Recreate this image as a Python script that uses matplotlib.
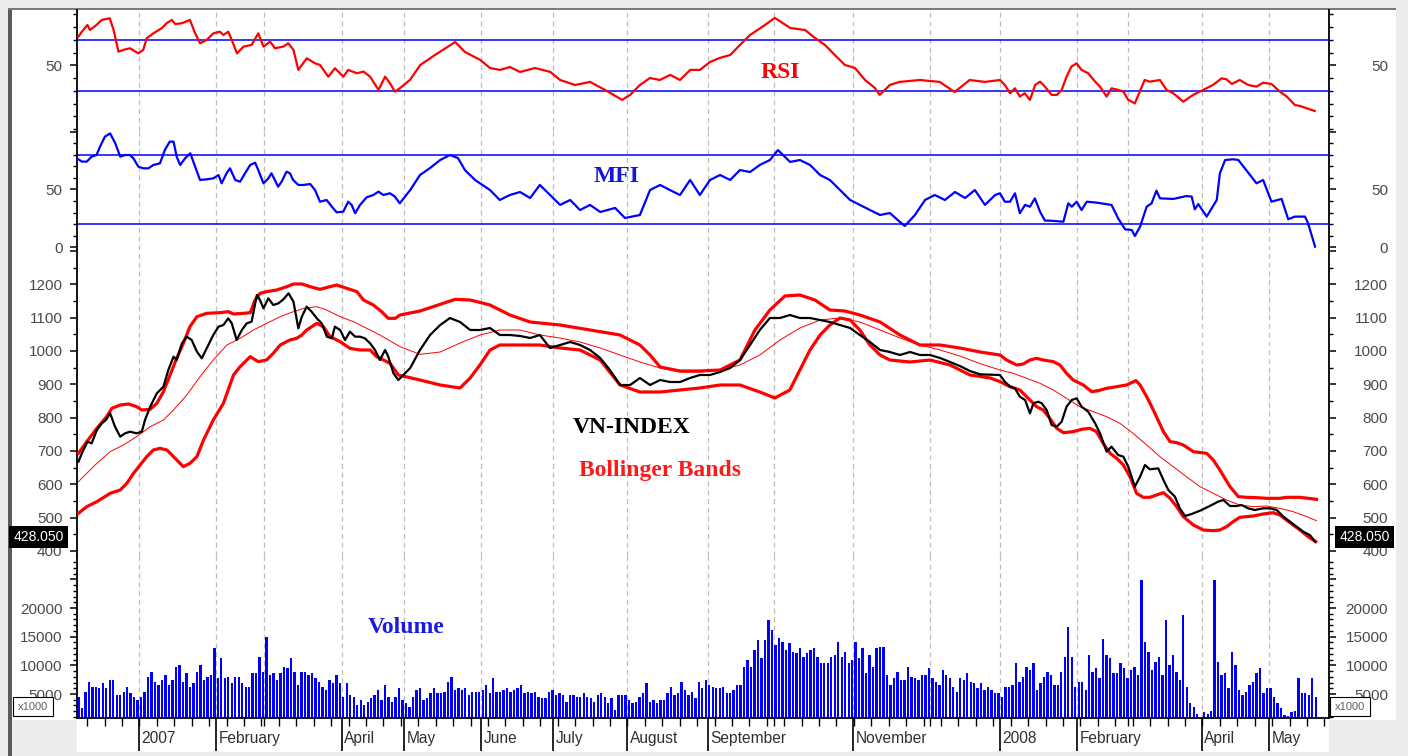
#!/usr/bin/env python3
"""
VN-INDEX with Bollinger Bands, RSI, MFI and volume (Dec 2006 - May 2008).
x axis is the trading-day index.
"""

import numpy as np
import matplotlib

matplotlib.use("Agg")

import matplotlib.pyplot as plt
from matplotlib.patches import Rectangle

plt.rcParams["font.family"] = ["Liberation Sans", "DejaVu Sans"]

# ---------------------------------------------------------------- data
month_days = [17.4, 39.5, 53.3, 75.6, 93.4, 115.5, 136.2, 157.4, 180.6,
              199.6, 222.2, 244.3, 264.4, 286.5, 301.1, 322.3, 341.6]
month_labels = ["2007", "February", "", "April", "May", "June", "July",
                "August", "September", "", "November", "", "2008",
                "February", "", "April", "May"]

rsi_levels = [70, 30]
mfi_levels = [80, 20]
last_close = 428.050

rsi = [(0.0, 72.6), (1.0, 76.5), (2.6, 81.8), (3.3, 77.8), (5.2, 81.8), (6.7, 85.7),
       (9.0, 87.0), (10.1, 77.8), (11.5, 60.8), (12.9, 62.2), (14.8, 63.5), (17.2, 59.5),
       (18.6, 62.2), (19.6, 71.3), (21.5, 75.2), (23.9, 79.2), (25.3, 83.1), (26.8, 85.7),
       (27.8, 82.5), (29.7, 83.1), (32.0, 85.7), (33.5, 75.2), (34.9, 67.4), (36.8, 70.0),
       (38.7, 75.2), (40.6, 76.5), (41.6, 73.9), (43.0, 76.5), (44.0, 70.0), (45.5, 59.5),
       (47.4, 64.8), (49.7, 66.1), (51.6, 75.2), (53.1, 64.8), (55.0, 68.7), (56.4, 63.5),
       (58.8, 64.8), (60.2, 67.4), (61.7, 62.2), (63.1, 46.5), (65.5, 55.6), (67.9, 51.7),
       (69.3, 50.4), (71.7, 41.2), (73.6, 47.8), (76.0, 41.2), (77.4, 46.5), (79.9, 43.9),
       (81.8, 45.2), (83.7, 41.2), (86.1, 30.8), (88.0, 41.2), (89.4, 36.0), (90.8, 29.5),
       (92.2, 32.1), (95.1, 38.6), (98.1, 50.4), (102.3, 58.2), (108.1, 68.4), (110.9, 60.6),
       (115.3, 54.3), (118.1, 48.0), (121.0, 46.5), (123.8, 48.8), (126.7, 44.9), (131.0, 48.0),
       (135.4, 44.9), (138.2, 38.6), (142.5, 34.7), (146.8, 37.1), (151.1, 30.8), (156.0, 23.0),
       (158.3, 26.9), (161.1, 34.7), (164.0, 40.2), (166.8, 38.6), (169.8, 42.6), (172.6, 38.6),
       (175.5, 46.5), (178.3, 46.5), (181.2, 52.7), (184.0, 55.9), (187.0, 58.2), (189.8, 66.1),
       (192.7, 73.9), (197.0, 81.8), (199.8, 87.3), (204.2, 79.4), (208.5, 77.8), (211.3, 71.6),
       (214.2, 66.1), (217.0, 58.2), (219.9, 50.4), (222.8, 48.0), (225.7, 38.6), (228.5, 32.4),
       (229.9, 26.9), (232.8, 34.7), (235.6, 37.1), (241.4, 38.6), (247.1, 37.1), (251.4, 29.2),
       (255.7, 38.6), (260.1, 37.1), (264.4, 38.6), (265.8, 34.7), (267.3, 28.2), (268.7, 32.1),
       (270.1, 25.6), (271.5, 28.2), (273.0, 23.0), (274.5, 34.7), (275.9, 37.3), (277.3, 33.4),
       (279.2, 26.9), (280.7, 26.9), (282.1, 30.8), (283.5, 41.2), (284.9, 49.1), (286.4, 51.7),
       (287.8, 46.5), (289.7, 43.9), (291.7, 37.3), (293.1, 33.4), (295.0, 25.6), (296.4, 32.1),
       (298.3, 30.8), (299.8, 29.5), (301.2, 23.0), (303.1, 20.3), (304.5, 29.5), (305.9, 38.6),
       (307.4, 37.3), (310.3, 38.6), (312.2, 30.8), (314.1, 28.2), (317.0, 21.6), (319.8, 26.9),
       (322.7, 30.8), (325.5, 34.7), (328.0, 39.9), (329.4, 39.1), (330.9, 35.5), (333.2, 38.6),
       (335.6, 34.7), (338.0, 33.4), (339.9, 36.5), (342.3, 35.5), (344.7, 29.5), (346.7, 25.6),
       (349.0, 19.0), (350.5, 18.2), (352.4, 16.4), (354.7, 14.3)]

mfi = [(0.0, 76.1), (1.0, 74.1), (2.4, 74.1), (3.8, 78.4), (5.2, 79.8), (6.2, 87.0),
       (7.6, 95.7), (9.1, 98.5), (10.6, 89.9), (12.0, 78.4), (13.4, 79.8), (14.8, 79.8),
       (15.8, 76.9), (17.2, 69.7), (18.6, 68.3), (20.1, 68.3), (21.5, 71.2), (23.4, 72.6),
       (24.8, 84.1), (26.2, 91.4), (27.3, 91.4), (28.2, 78.4), (29.2, 71.2), (30.6, 76.9),
       (32.1, 81.3), (33.5, 69.7), (34.9, 58.2), (36.8, 58.8), (38.7, 59.6), (40.2, 62.5),
       (41.1, 55.3), (42.5, 64.0), (43.5, 68.3), (45.0, 58.2), (46.4, 56.7), (47.8, 64.0),
       (49.3, 71.2), (50.7, 73.2), (51.6, 66.8), (53.1, 55.3), (54.5, 59.6), (55.4, 64.0),
       (57.3, 52.4), (58.3, 56.7), (59.7, 65.4), (60.7, 64.0), (61.6, 58.2), (63.1, 53.9),
       (64.6, 53.9), (66.5, 54.7), (67.9, 49.5), (69.3, 39.4), (71.2, 40.9), (73.1, 33.7),
       (74.1, 30.2), (76.0, 30.8), (77.4, 39.4), (78.4, 36.6), (79.4, 29.4), (80.8, 36.6),
       (82.7, 43.2), (84.6, 45.2), (86.1, 48.1), (87.5, 45.2), (89.4, 46.7), (90.8, 43.8),
       (92.2, 38.0), (95.2, 49.5), (98.0, 62.5), (100.9, 68.6), (103.8, 75.5), (106.6, 79.8),
       (108.9, 77.2), (110.9, 66.8), (113.8, 58.2), (118.1, 49.5), (120.9, 40.9), (123.8, 45.2),
       (126.7, 47.8), (129.6, 42.6), (132.4, 53.9), (135.3, 45.2), (138.2, 36.6), (141.1, 40.9),
       (143.9, 32.2), (146.8, 36.6), (149.7, 30.5), (154.0, 34.0), (156.8, 25.3), (161.1, 27.9),
       (164.0, 49.5), (166.9, 53.9), (169.7, 49.5), (172.6, 45.2), (175.5, 58.2), (178.3, 45.2),
       (181.2, 58.2), (184.1, 62.5), (187.0, 58.2), (189.8, 66.8), (192.7, 65.1), (195.5, 71.2),
       (198.4, 75.5), (200.7, 84.1), (204.2, 73.8), (207.0, 75.5), (209.9, 71.2), (212.8, 62.5),
       (215.6, 58.2), (218.5, 49.5), (221.4, 40.9), (224.2, 36.6), (227.1, 32.2), (230.0, 27.9),
       (232.8, 29.6), (235.7, 21.9), (237.1, 18.4), (240.0, 27.9), (242.9, 40.9), (245.7, 45.2),
       (248.6, 40.9), (251.5, 47.8), (254.4, 42.6), (257.2, 49.5), (260.1, 36.6), (263.0, 45.2),
       (264.4, 46.7), (265.8, 39.4), (267.3, 39.4), (268.7, 46.7), (270.1, 29.4), (271.6, 36.6),
       (273.0, 35.1), (274.4, 42.3), (275.9, 30.8), (277.3, 23.0), (278.7, 23.0), (282.6, 22.1),
       (284.0, 38.0), (285.0, 35.1), (286.4, 39.4), (287.8, 32.2), (289.3, 39.4), (292.1, 38.6),
       (296.4, 36.6), (298.3, 25.0), (300.3, 15.5), (302.2, 14.9), (303.1, 9.7), (304.6, 17.8),
       (306.5, 35.1), (307.9, 38.0), (309.3, 49.0), (310.3, 42.3), (314.1, 41.8), (317.9, 44.3),
       (319.4, 43.8), (320.3, 32.8), (321.3, 37.4), (323.7, 26.5), (326.6, 40.9), (327.5, 64.0),
       (329.0, 75.5), (331.3, 76.1), (332.8, 75.5), (338.0, 55.3), (339.9, 58.2), (342.3, 39.4),
       (345.2, 41.8), (347.1, 24.2), (349.0, 26.5), (351.9, 26.5), (352.8, 20.7), (354.8, 0.5)]

close = [(0.0, 668), (1.0, 693), (2.6, 728), (3.8, 723), (5.3, 763), (6.7, 783), (7.9, 793),
         (9.1, 813), (10.5, 773), (12.0, 743), (13.4, 753), (14.8, 758), (16.7, 753), (18.2, 758),
         (19.1, 793), (20.6, 833), (22.5, 873), (24.4, 893), (25.8, 943), (27.3, 983), (28.2, 973),
         (29.7, 1023), (31.1, 1043), (32.5, 1033), (34.0, 998), (35.4, 978), (36.8, 1008),
         (38.7, 1048), (40.2, 1073), (41.6, 1078), (43.0, 1098), (44.0, 1083), (45.4, 1033),
         (46.9, 1063), (48.3, 1083), (49.7, 1088), (51.2, 1168), (52.1, 1153), (53.1, 1128),
         (54.5, 1158), (55.9, 1138), (57.4, 1143), (58.8, 1155), (60.3, 1173), (61.7, 1148),
         (63.1, 1068), (64.1, 1103), (65.5, 1133), (66.9, 1118), (68.4, 1098), (69.8, 1083),
         (71.3, 1043), (72.7, 1038), (73.6, 1073), (75.1, 1063), (76.5, 1033), (77.9, 1058),
         (79.4, 1043), (80.8, 1043), (82.2, 1038), (83.7, 1023), (85.1, 1003), (86.5, 973),
         (88.0, 1003), (88.9, 983), (90.4, 933), (91.8, 913), (95.2, 949), (98.0, 1003),
         (100.9, 1048), (103.8, 1078), (106.6, 1099), (109.5, 1087), (112.4, 1063), (115.2, 1063),
         (118.1, 1069), (120.9, 1048), (123.8, 1048), (126.7, 1045), (129.6, 1039), (132.4, 1048),
         (135.3, 1009), (138.2, 1018), (141.1, 1027), (143.9, 1018), (146.8, 1003), (149.7, 979),
         (152.5, 943), (155.4, 898), (158.3, 898), (161.1, 919), (164.0, 898), (166.9, 913),
         (169.7, 907), (172.6, 907), (175.5, 919), (178.3, 928), (181.2, 928), (184.1, 937),
         (187.0, 949), (189.8, 973), (192.7, 1018), (195.5, 1063), (198.4, 1099), (201.3, 1099),
         (204.1, 1108), (207.0, 1099), (209.9, 1099), (212.8, 1093), (215.6, 1087), (218.5, 1078),
         (221.4, 1069), (224.2, 1048), (227.1, 1027), (230.0, 1003), (232.8, 997), (235.7, 988),
         (238.6, 997), (241.4, 988), (244.3, 988), (247.2, 979), (250.1, 967), (252.9, 955),
         (255.8, 940), (258.7, 930), (264.4, 928), (265.8, 908), (267.3, 893), (268.7, 888),
         (270.1, 863), (271.6, 853), (273.0, 813), (274.0, 843), (275.4, 848), (276.4, 843),
         (277.8, 823), (279.2, 778), (280.7, 773), (282.1, 788), (283.5, 833), (285.0, 853),
         (286.4, 858), (287.8, 833), (289.7, 818), (291.7, 783), (293.1, 753), (295.0, 698),
         (296.4, 713), (298.3, 688), (299.8, 683), (301.2, 653), (303.1, 593), (304.6, 623),
         (306.0, 658), (307.4, 645), (309.8, 648), (311.3, 613), (312.7, 583), (314.6, 563),
         (316.0, 528), (317.5, 505), (319.4, 511), (321.8, 521), (324.2, 533), (327.0, 548),
         (328.5, 553), (330.4, 535), (332.3, 535), (333.7, 538), (335.6, 528), (337.5, 523),
         (339.9, 528), (341.9, 528), (343.8, 523), (345.7, 503), (347.6, 488), (349.5, 473),
         (351.4, 458), (353.3, 448), (354.8, 428.05)]

upper = [(0.0, 693), (2.4, 728), (5.3, 768), (8.1, 803), (9.6, 828), (12.0, 838), (14.4, 841),
         (16.7, 833), (18.2, 823), (20.6, 825), (22.5, 843), (24.4, 878), (26.3, 928), (28.2, 978),
         (30.1, 1023), (32.0, 1073), (34.0, 1103), (36.8, 1113), (40.7, 1115), (43.0, 1118),
         (44.5, 1111), (47.4, 1113), (49.3, 1115), (50.7, 1153), (52.1, 1173), (54.0, 1178),
         (56.9, 1183), (59.8, 1193), (61.7, 1201), (64.1, 1201), (66.5, 1193), (69.3, 1185),
         (72.2, 1193), (74.1, 1198), (77.0, 1188), (79.9, 1178), (81.8, 1153), (84.6, 1138),
         (87.0, 1118), (88.9, 1098), (90.9, 1098), (92.3, 1108), (98.0, 1120), (103.8, 1140),
         (108.1, 1155), (112.4, 1153), (118.1, 1138), (123.8, 1108), (129.6, 1087), (138.2, 1078),
         (146.8, 1063), (155.4, 1048), (161.1, 1018), (164.0, 988), (166.9, 952), (172.6, 940),
         (178.3, 940), (184.1, 943), (189.8, 973), (194.1, 1063), (198.4, 1123), (202.7, 1165),
         (207.0, 1168), (211.3, 1153), (215.6, 1123), (219.9, 1120), (224.2, 1108), (230.0, 1087),
         (235.7, 1048), (241.4, 1018), (247.2, 1018), (252.9, 1009), (258.7, 997), (264.4, 988),
         (266.3, 973), (269.2, 958), (271.1, 961), (273.0, 973), (274.9, 978), (276.8, 973),
         (279.7, 968), (281.6, 958), (283.5, 933), (285.4, 913), (288.3, 898), (290.7, 878),
         (292.6, 881), (295.0, 888), (297.9, 893), (300.7, 898), (303.4, 911), (304.6, 898),
         (306.5, 863), (308.4, 823), (311.3, 758), (313.2, 728), (315.1, 725), (317.0, 718),
         (319.9, 698), (323.7, 693), (325.6, 673), (327.5, 643), (330.4, 593), (332.8, 563),
         (335.2, 561), (338.0, 560), (340.9, 558), (344.7, 558), (346.6, 561), (350.5, 561),
         (352.8, 558), (355.2, 555)]

middle = [(0.0, 608), (2.4, 633), (5.3, 663), (9.1, 698), (12.9, 718), (16.7, 743), (20.6, 773),
          (24.4, 793), (27.3, 823), (31.1, 868), (34.9, 923), (38.7, 973), (42.6, 1018),
          (46.4, 1038), (50.2, 1063), (54.0, 1083), (57.9, 1103), (61.7, 1118), (64.6, 1128),
          (68.4, 1133), (71.2, 1123), (75.1, 1103), (78.9, 1088), (82.7, 1068), (86.5, 1048),
          (92.3, 1013), (98.0, 990), (103.8, 997), (109.5, 1024), (115.2, 1048), (120.9, 1063),
          (126.7, 1063), (132.4, 1048), (138.2, 1039), (143.9, 1027), (149.7, 1009), (155.4, 988),
          (161.1, 967), (166.9, 949), (172.6, 937), (178.3, 937), (184.1, 943), (189.8, 958),
          (195.5, 988), (201.3, 1033), (207.0, 1069), (212.8, 1093), (218.5, 1099), (224.2, 1087),
          (230.0, 1063), (235.7, 1039), (241.4, 1018), (247.2, 1003), (252.9, 985), (258.7, 962),
          (264.4, 943), (268.2, 933), (272.1, 918), (275.9, 903), (279.7, 883), (283.5, 858),
          (287.3, 833), (291.2, 818), (295.0, 803), (298.8, 783), (302.6, 753), (306.5, 718),
          (310.3, 683), (314.1, 653), (317.9, 623), (321.8, 593), (325.6, 573), (329.4, 553),
          (333.2, 538), (337.1, 533), (340.9, 535), (344.7, 528), (348.5, 518), (352.4, 503),
          (355.2, 491)]

lower = [(0.0, 513), (2.4, 533), (5.3, 548), (9.1, 573), (12.0, 583), (13.9, 603), (15.8, 633),
         (17.7, 658), (19.6, 683), (21.5, 703), (23.4, 708), (25.4, 703), (27.3, 683), (30.1, 653),
         (32.0, 663), (34.0, 683), (35.9, 733), (38.7, 793), (41.6, 843), (44.5, 928), (46.4, 953),
         (49.3, 983), (51.6, 968), (54.0, 973), (55.9, 993), (57.9, 1018), (60.7, 1033),
         (62.6, 1038), (64.1, 1048), (65.5, 1063), (68.4, 1083), (70.3, 1073), (72.2, 1043),
         (75.1, 1028), (77.9, 1008), (80.8, 1003), (83.7, 1003), (85.6, 983), (87.5, 973),
         (89.4, 963), (91.8, 928), (98.0, 913), (103.8, 898), (109.5, 889), (112.4, 919),
         (115.2, 958), (118.1, 1003), (120.9, 1018), (126.7, 1018), (132.4, 1018), (138.2, 1009),
         (143.9, 1003), (149.7, 973), (155.4, 898), (161.1, 877), (166.9, 877), (172.6, 883),
         (178.3, 889), (184.1, 898), (189.8, 898), (195.5, 877), (199.8, 859), (204.1, 883),
         (207.0, 943), (209.9, 1003), (212.8, 1048), (215.6, 1078), (218.5, 1099), (221.4, 1093),
         (224.2, 1063), (227.1, 1018), (230.0, 988), (232.8, 973), (238.6, 967), (244.3, 973),
         (250.1, 958), (255.8, 928), (261.6, 919), (264.4, 908), (267.3, 893), (270.1, 883),
         (273.0, 853), (274.9, 833), (276.8, 823), (278.7, 798), (280.7, 768), (282.6, 755),
         (285.4, 758), (287.8, 765), (290.2, 768), (292.1, 758), (294.0, 723), (296.0, 693),
         (297.9, 678), (299.8, 658), (301.7, 623), (303.6, 573), (305.5, 561), (307.4, 561),
         (309.3, 568), (311.3, 575), (313.2, 558), (315.1, 533), (317.0, 503), (319.9, 478),
         (322.7, 463), (325.6, 461), (327.5, 463), (329.4, 473), (331.3, 488), (333.2, 501),
         (337.1, 505), (339.9, 511), (342.8, 515), (344.7, 508), (346.6, 493), (348.5, 478),
         (350.5, 463), (352.8, 443), (355.0, 428)]

# daily volume, x1000
volume = [
    4550, 2520, 5420, 7170, 6300, 6300, 6000, 6880, 6000, 7460, 7460, 4840,
    4840, 5420, 6300, 5130, 4550, 3970, 4550, 5420, 8040, 8910, 7170, 6590,
    7460, 8330, 6590, 7460, 9780, 10070, 7170, 8620, 6300, 6880, 8910, 10070,
    7460, 8040, 8330, 12980, 7750, 11230, 7750, 8040, 6880, 8040, 8040, 6880,
    6300, 6300, 8620, 8620, 11520, 8910, 15010, 8330, 8620, 7460, 8620, 9780,
    9490, 11230, 8910, 6590, 8910, 8910, 8330, 8620, 7750, 7170, 6300, 5710,
    7460,
    6880, 8330, 6880, 4550, 6880, 4840, 4550, 3100, 3970, 3100, 3680, 4260,
    4840, 5710, 3970, 6590, 4550, 3680, 4550, 6000, 3970, 3390, 2810, 4550,
    5710, 6000, 3970, 4260, 5130, 6000, 5130, 5130, 5420, 7170, 8040, 5710,
    6000, 5710, 6000, 4840, 5420, 5420, 5420, 5710, 6590, 5130, 7750, 5420,
    5420, 5710, 6000, 5420, 5710, 6000, 6590, 5130, 5420, 5130, 5420, 4550,
    4260, 4260, 5420, 5710, 4840, 5130, 4840, 3680, 4840, 4840,
    4550, 4550, 5130, 4550, 4260, 3680, 4840, 5130, 4550, 3390, 4260, 2230,
    4840, 4840, 4840, 3970, 3390, 3680, 4550, 5130, 6880, 3680, 3970, 3390,
    3970, 3970, 5130, 6300, 4840, 5130, 7170, 5710, 4840, 5420, 4260, 7170,
    6000, 7460, 6590, 6300, 6000, 6000, 6300, 5130, 5130, 5710, 6590, 6590,
    9780, 10940, 9780, 12690, 14430, 11230, 14430, 17920, 16170, 13560, 14720, 14140,
    12690, 13850, 12400, 12110, 12980, 11520, 12110, 12690, 12980, 11520, 10360, 10360,
    10360, 11520, 11820, 14140, 11520, 12400, 10360, 10940, 14140, 11230, 12980, 8620,
    11820, 9780, 12980, 13270, 13270, 8330, 6590, 7750, 8910, 7460, 7460, 9780,
    8040, 7750, 7460, 8330, 8330, 9490, 7750, 7170, 6590, 9200, 8330, 7750,
    6300, 5420, 7750, 7460, 8620, 7170, 6880, 6000, 6880, 5710, 6300, 5710,
    5130, 5130, 4550, 6300, 6300, 6590, 10360, 7170, 8040, 9780, 9200, 10360,
    5710, 6880, 8040, 8910, 8330, 6590, 6590, 8910, 11520, 16750, 11520, 6300,
    7170, 7170, 5710, 11820, 8910, 9490, 7750, 14550, 11820, 11230, 8620, 8620,
    10360, 9490, 7750, 9200, 9780, 8330, 24890, 14140, 12400, 9200, 10650, 11520,
    8330, 17920, 10070, 11820, 8910, 7460, 18790, 6300, 3390, 2810, 1530, 900,
    1820, 1530, 2110, 24890, 10650, 8330, 8620, 6000, 12400, 10070, 5710, 4840,
    5420, 6590, 7170, 8620, 9490, 5130, 6000, 6000, 4550, 3390, 2520, 1360,
    1240, 1820, 2110, 7750, 5130, 5130, 4840, 7750, 4550,
]

# ---------------------------------------------------------------- layout
W, H = 1408, 756
XLIM = (-0.4, 358.8)
LABEL_GREY = "#4a4a4a"
TICK_FS = 11


def px_rect(x0, y0, x1, y1):
    """pixel box, origin top-left -> [left, bottom, width, height] in figure fraction"""
    return [x0 / W, 1 - y1 / H, (x1 - x0) / W, (y1 - y0) / H]


def style_panel(ax, ylim, major, labels, minor):
    ax.set_xlim(*XLIM)
    ax.set_ylim(*ylim)
    ax.set_facecolor("white")
    for side in ("top", "bottom", "right"):
        ax.spines[side].set_visible(False)
    ax.spines["left"].set_linewidth(1.3)
    ax.tick_params(axis="x", which="both", bottom=False, labelbottom=False)

    ax.set_yticks(major, labels)
    ax.set_yticks(minor, minor=True)
    ax.tick_params(axis="y", which="major", direction="out", length=5, width=1.1,
                   pad=5.5, labelsize=TICK_FS, labelcolor=LABEL_GREY)
    ax.tick_params(axis="y", which="minor", direction="out", length=3, width=1.0)

    sec = ax.secondary_yaxis("right")
    sec.set_yticks(major, labels)
    sec.set_yticks(minor, minor=True)
    sec.spines["right"].set_linewidth(1.3)
    sec.tick_params(axis="y", which="major", direction="out", length=5, width=1.1,
                    pad=37.5, labelsize=TICK_FS, labelcolor=LABEL_GREY)
    sec.tick_params(axis="y", which="minor", direction="out", length=3, width=1.0)
    for t in sec.get_yticklabels():
        t.set_horizontalalignment("right")

    for d in month_days:
        ax.axvline(d, color="#bdbdbd", lw=0.9, ls=(0, (4, 3)), zorder=0.5)


def main():
    fig = plt.figure(figsize=(W / 100, H / 100), dpi=100)
    fig.patch.set_facecolor("#ececec")

    # window frame
    for (x0, y0, x1, y1), col in [((12, 10, 1396, 720), "white"),
                                  ((77, 718, 1329, 752), "white"),
                                  ((8, 8, 12, 756), "#5a5a5a"),
                                  ((8, 8, 1396, 10), "#7a7a7a")]:
        l, b, w, h = px_rect(x0, y0, x1, y1)
        fig.add_artist(Rectangle((l, b), w, h, transform=fig.transFigure,
                                 fc=col, ec="none", zorder=-10))

    ax_rsi = fig.add_axes(px_rect(77, 10, 1329, 131))
    ax_mfi = fig.add_axes(px_rect(77, 131, 1329, 250))
    ax_px = fig.add_axes(px_rect(77, 250, 1329, 556))
    ax_vol = fig.add_axes(px_rect(77, 556, 1329, 718))

    # RSI
    style_panel(ax_rsi, (-1.4, 93.5), [50], ["50"], list(range(0, 100, 10)))
    for lvl in rsi_levels:
        ax_rsi.axhline(lvl, color="#0000ff", lw=1.1, zorder=1)
    d, v = np.array(rsi).T
    ax_rsi.plot(d, v, color="#ff0000", lw=1.6, zorder=3)
    ax_rsi.text(0.5615, 0.48, "RSI", transform=ax_rsi.transAxes, ha="center", va="center",
                fontsize=17, fontweight="bold", family="Liberation Serif", color="#ff0000")

    # MFI
    style_panel(ax_mfi, (-2.4, 100.6), [0, 50, 100], ["0", "50", ""],
                list(range(0, 101, 10)))
    for lvl in mfi_levels:
        ax_mfi.axhline(lvl, color="#0000ff", lw=1.1, zorder=1)
    d, v = np.array(mfi).T
    ax_mfi.plot(d, v, color="#0000ff", lw=1.6, zorder=3)
    ax_mfi.text(0.4313, 0.62, "MFI", transform=ax_mfi.transAxes, ha="center", va="center",
                fontsize=17, fontweight="bold", family="Liberation Serif", color="#1515e0")

    # price + Bollinger bands
    px_major = list(range(400, 1301, 100))
    style_panel(ax_px, (385, 1303), px_major,
                [str(p) if p < 1300 else "" for p in px_major],
                list(range(400, 1300, 50)))
    d, v = np.array(middle).T
    ax_px.plot(d, v, color="#ff0000", lw=0.7, zorder=2)
    for band in (upper, lower):
        d, v = np.array(band).T
        ax_px.plot(d, v, color="#ff0000", lw=2.3, zorder=3)
    d, v = np.array(close).T
    ax_px.plot(d, v, color="black", lw=1.6, zorder=4)
    ax_px.text(0.4433, 0.42, "VN-INDEX", transform=ax_px.transAxes, ha="center", va="center",
               fontsize=17, fontweight="bold", family="Liberation Serif", color="black")
    ax_px.text(0.4657, 0.281, "Bollinger Bands", transform=ax_px.transAxes, ha="center",
               va="center", fontsize=17, fontweight="bold", family="Liberation Serif",
               color="#ff1a1a")
    for x, ha, dx in [(0, "right", -9.5), (1, "left", 7.3)]:
        ax_px.annotate(f"{last_close:.3f}", xy=(x, last_close),
                       xycoords=("axes fraction", "data"), xytext=(dx, 3.3),
                       textcoords="offset points", ha=ha, va="center", color="white",
                       fontsize=10, annotation_clip=False, zorder=10,
                       bbox=dict(boxstyle="square,pad=0.3", fc="black", ec="none"))

    # volume
    vol_major = [5000, 10000, 15000, 20000, 25000]
    style_panel(ax_vol, (820, 29070), vol_major,
                [str(v) if v < 25000 else "" for v in vol_major],
                list(range(1000, 29000, 1000)))
    ax_vol.bar(np.arange(len(volume)), volume, width=0.68, color="#0000ff", lw=0, zorder=2)
    ax_vol.text(0.2628, 0.56, "Volume", transform=ax_vol.transAxes, ha="center", va="center",
                fontsize=17, fontweight="bold", family="Liberation Serif", color="#1a1ae6")

    # bottom date axis
    ax_vol.spines["bottom"].set_visible(True)
    ax_vol.spines["bottom"].set_linewidth(1.3)
    labelled = [d for d, lab in zip(month_days, month_labels) if lab]
    unlabelled = [d for d, lab in zip(month_days, month_labels) if not lab]
    ax_vol.set_xticks(labelled, [""] * len(labelled))
    ax_vol.set_xticks(sorted(list(np.arange(2.5, 358, 5)) + unlabelled), minor=True)
    ax_vol.tick_params(axis="x", which="major", bottom=True, direction="out",
                       length=24, width=1.2)
    ax_vol.tick_params(axis="x", which="minor", bottom=True, direction="out",
                       length=5.5, width=1.0)
    for d, lab in zip(month_days, month_labels):
        if lab:
            ax_vol.annotate(lab, xy=(d, 0), xycoords=("data", "axes fraction"),
                            xytext=(1.8, -14.8), textcoords="offset points",
                            ha="left", va="center", fontsize=11.2, color="#303030",
                            annotation_clip=False)

    for xc in (33, 1350):
        fig.text(xc / W, 1 - 706.5 / H, "x1000", ha="center", va="center", fontsize=8,
                 color="#606060", zorder=20,
                 bbox=dict(boxstyle="square,pad=0.42", fc="white", ec="black", lw=0.8))

    fig.savefig("out.png", dpi=100, facecolor=fig.get_facecolor())


if __name__ == "__main__":
    main()
